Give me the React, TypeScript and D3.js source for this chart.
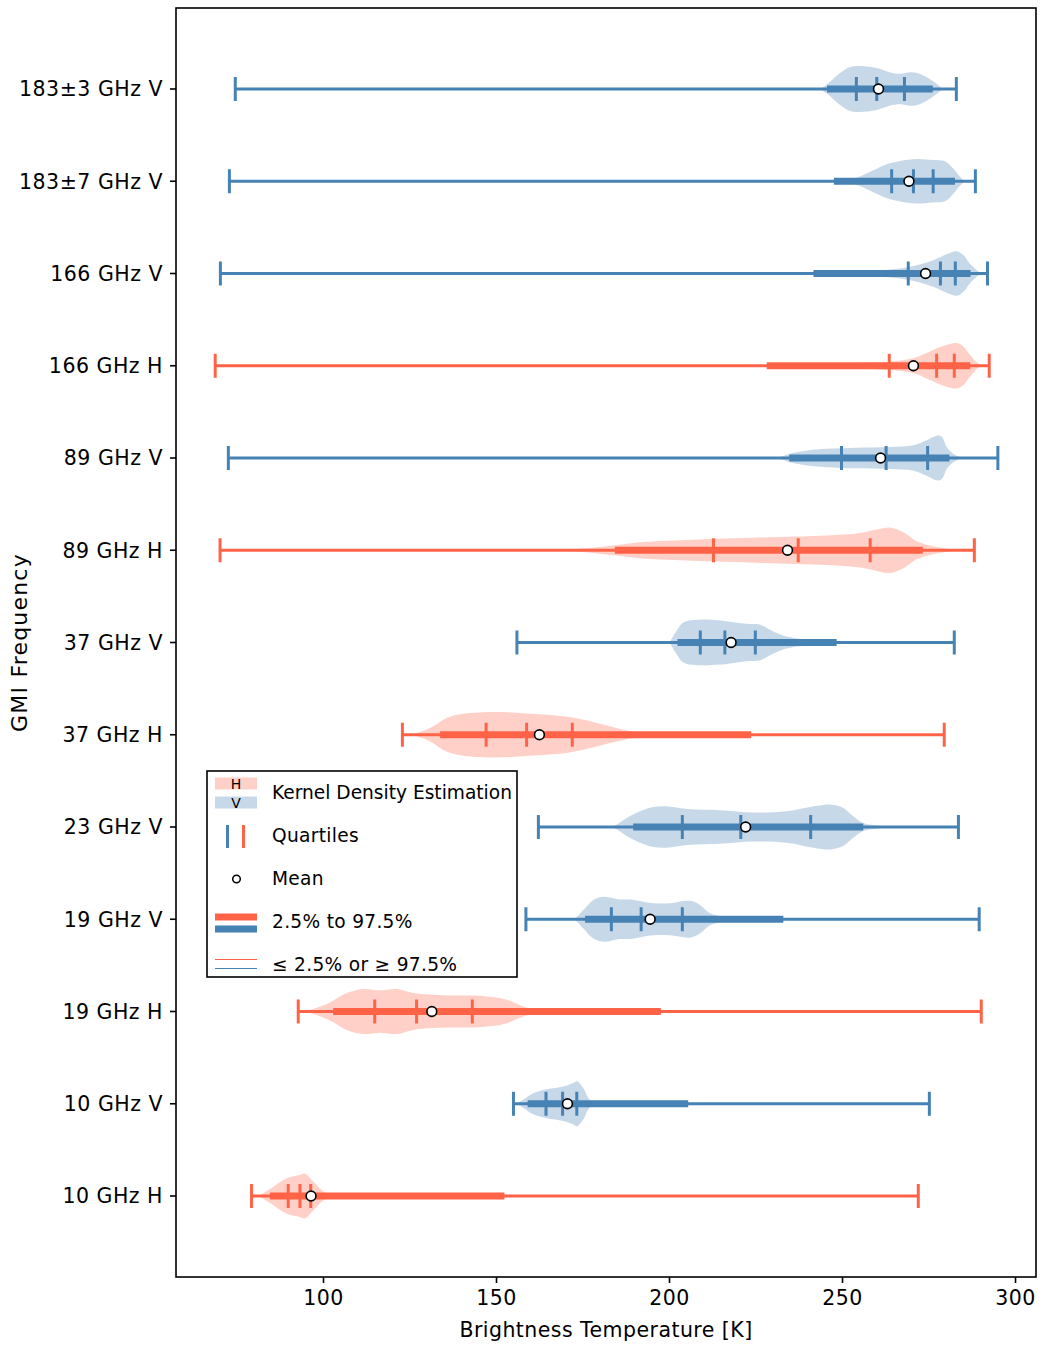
import React from 'react';
import * as d3 from 'd3';

const categories = ['183±3 GHz V', '183±7 GHz V', '166 GHz V', '166 GHz H', '89 GHz V', '89 GHz H', '37 GHz V', '37 GHz H', '23 GHz V', '19 GHz V', '19 GHz H', '10 GHz V', '10 GHz H'];
const polarization = ['V', 'V', 'V', 'H', 'V', 'H', 'V', 'H', 'V', 'V', 'H', 'V', 'H'];
const whiskerMin = [74.5, 72.8, 70.2, 68.7, 72.5, 70.1, 155.9, 122.8, 162.1, 158.5, 92.7, 154.9, 79.2];
const whiskerMax = [282.9, 288.4, 291.9, 292.4, 294.9, 288.1, 282.3, 279.4, 283.5, 289.5, 290.1, 275.1, 271.9];
const p025 = [245.5, 247.5, 241.6, 228.1, 234.6, 184.2, 202.3, 133.7, 189.5, 175.6, 102.8, 159.0, 84.5];
const p975 = [276.1, 282.5, 287.0, 286.9, 280.9, 273.2, 248.3, 223.6, 256.0, 232.9, 197.5, 205.4, 152.3];
const q1 = [254.0, 264.2, 269.0, 263.5, 249.7, 212.7, 208.9, 147.0, 203.7, 183.2, 114.8, 164.3, 89.8];
const median = [259.9, 270.5, 278.3, 277.2, 262.6, 237.2, 216.0, 158.7, 220.6, 191.8, 126.9, 169.1, 93.2];
const q3 = [267.9, 276.2, 282.6, 282.3, 274.6, 258.0, 224.8, 171.9, 240.8, 203.7, 143.0, 173.2, 96.3];
const means = [260.4, 269.2, 274.0, 270.5, 261.0, 234.1, 217.8, 162.4, 222.0, 194.4, 131.3, 170.5, 96.4];

// KDE outlines: [temperature K, relative half-width]
const kde183p3V: [number, number][] = [[243.5, 0], [245.4, 0.19], [249.3, 0.7], [252.2, 0.96], [255.1, 1.0], [259.9, 0.91], [263.8, 0.72], [266.7, 0.66], [269.6, 0.73], [271.8, 0.68], [275.3, 0.42], [278.2, 0.1], [279.0, 0]];
const kde183p7V: [number, number][] = [[250.2, 0], [254.6, 0.19], [258.9, 0.48], [262.8, 0.74], [266.6, 0.88], [271.4, 0.97], [276.2, 0.92], [279.6, 0.87], [282.0, 0.55], [284.0, 0.19], [285.4, 0]];
const kde166V: [number, number][] = [[240.0, 0], [247.3, 0.04], [257.0, 0.1], [266.6, 0.22], [271.4, 0.36], [276.2, 0.58], [280.1, 0.84], [283.0, 0.97], [284.9, 0.8], [286.8, 0.43], [288.8, 0.14], [290.2, 0]];
const kde166H: [number, number][] = [[236.0, 0], [245.0, 0.06], [257.0, 0.14], [263.7, 0.19], [270.5, 0.33], [274.3, 0.55], [278.2, 0.81], [283.0, 0.99], [284.9, 0.84], [286.8, 0.48], [288.8, 0.14], [290.2, 0]];
const kde89V: [number, number][] = [[229.5, 0], [231.9, 0.04], [234.8, 0.19], [239.7, 0.33], [245.4, 0.4], [254.1, 0.45], [263.7, 0.48], [270.5, 0.55], [274.3, 0.77], [277.2, 0.97], [278.7, 0.92], [280.1, 0.48], [282.0, 0.19], [284.0, 0.04], [285.5, 0]];
const kde89H: [number, number][] = [[168.4, 0], [174.1, 0.06], [184.2, 0.22], [192.4, 0.36], [206.9, 0.46], [226.2, 0.55], [245.4, 0.64], [255.1, 0.75], [260.8, 0.93], [263.7, 0.99], [267.6, 0.78], [271.4, 0.39], [276.2, 0.17], [282.0, 0.03], [285.0, 0]];
const kde37V: [number, number][] = [[199.6, 0], [200.1, 0.04], [201.6, 0.4], [204.0, 0.87], [208.8, 0.99], [214.6, 0.96], [222.3, 0.81], [226.2, 0.77], [230.0, 0.48], [233.9, 0.26], [239.7, 0.12], [245.4, 0.04], [250.0, 0]];
const kde37H: [number, number][] = [[125.0, 0], [126.9, 0.07], [130.8, 0.29], [135.6, 0.73], [140.4, 0.91], [150.1, 0.99], [159.7, 0.91], [169.3, 0.8], [174.1, 0.68], [179.0, 0.51], [183.8, 0.33], [189.5, 0.14], [198.2, 0.05], [206.0, 0]];
const kde23V: [number, number][] = [[182.8, 0], [184.7, 0.1], [187.6, 0.39], [191.5, 0.68], [195.3, 0.87], [199.2, 0.9], [205.0, 0.78], [214.6, 0.73], [224.2, 0.63], [233.9, 0.68], [241.6, 0.9], [246.4, 0.98], [250.2, 0.83], [253.1, 0.47], [256.0, 0.17], [260.8, 0.05], [265.0, 0]];
const kde19V: [number, number][] = [[171.2, 0], [172.7, 0.04], [175.1, 0.4], [178.0, 0.84], [180.9, 0.98], [185.7, 0.86], [188.6, 0.86], [195.3, 0.7], [200.1, 0.7], [205.9, 0.8], [208.8, 0.62], [211.7, 0.26], [215.5, 0.12], [222.3, 0.04], [226.0, 0]];
const kde19H: [number, number][] = [[93.2, 0], [96.1, 0.07], [101.9, 0.39], [106.7, 0.8], [111.5, 0.98], [116.3, 0.92], [121.2, 0.98], [126.0, 0.8], [135.6, 0.7], [145.2, 0.68], [153.0, 0.51], [157.7, 0.22], [162.6, 0.07], [167.0, 0]];
const kde10V: [number, number][] = [[154.8, 0], [156.0, 0.03], [157.7, 0.17], [160.6, 0.46], [164.5, 0.63], [169.3, 0.75], [172.2, 0.9], [173.2, 0.98], [175.1, 0.68], [176.5, 0.25], [178.0, 0.06], [179.3, 0]];
const kde10H: [number, number][] = [[81.1, 0], [82.6, 0.12], [85.5, 0.4], [89.4, 0.77], [93.2, 0.91], [94.7, 0.97], [97.1, 0.62], [100.0, 0.19], [101.9, 0.04], [103.3, 0]];
const kdeShapes = [kde183p3V, kde183p7V, kde166V, kde166H, kde89V, kde89H, kde37V, kde37H, kde23V, kde19V, kde19H, kde10V, kde10H];

const xTicks = [100, 150, 200, 250, 300];
const xLabel = 'Brightness Temperature [K]';
const yLabel = 'GMI Frequency';
const legendLabels = ['Kernel Density Estimation', 'Quartiles', 'Mean', '2.5% to 97.5%', '≤ 2.5% or ≥ 97.5%'];

const W = 1044;
const H = 1345;
const M = { left: 176, right: 1036, top: 8, bottom: 1277 };
const COL = { V: '#4682b4', H: '#ff6347' };
const FONT = "'DejaVu Sans', Verdana, sans-serif";

export default function App() {
  const x = d3.scaleLinear().domain([57.37, 305.92]).range([M.left, M.right]);
  const y = d3.scaleLinear().domain([-0.878, 12.878]).range([M.top, M.bottom]);
  const halfMax = 23;

  return (
    <svg width={W} height={H} style={{ position: 'absolute', left: 0, top: 0, background: '#fff' }} fontFamily={FONT}>
      <rect x={0} y={0} width={W} height={H} fill="#fff" />
      {categories.map((cat, i) => {
        const cy = y(i);
        const c = COL[polarization[i] as 'V' | 'H'];
        const area = d3
          .area<[number, number]>()
          .x((d) => x(d[0]))
          .y0((d) => cy - d[1] * halfMax)
          .y1((d) => cy + d[1] * halfMax)
          .curve(d3.curveCatmullRom.alpha(0.5));
        const capH = 12;
        return (
          <g key={cat}>
            <path d={area(kdeShapes[i]) || ''} fill={c} fillOpacity={0.3} stroke="none" />
            <line x1={x(whiskerMin[i])} x2={x(whiskerMax[i])} y1={cy} y2={cy} stroke={c} strokeWidth={3} />
            <line x1={x(p025[i])} x2={x(p975[i])} y1={cy} y2={cy} stroke={c} strokeWidth={7} />
            {[whiskerMin[i], whiskerMax[i]].map((v, k) => (
              <line key={'c' + k} x1={x(v)} x2={x(v)} y1={cy - capH} y2={cy + capH} stroke={c} strokeWidth={3} />
            ))}
            {[q1[i], median[i], q3[i]].map((v, k) => (
              <line key={'q' + k} x1={x(v)} x2={x(v)} y1={cy - capH} y2={cy + capH} stroke={c} strokeWidth={3} />
            ))}
            <circle cx={x(means[i])} cy={cy} r={4.9} fill="#fff" stroke="#000" strokeWidth={1.6} />
          </g>
        );
      })}

      {/* frame */}
      <rect x={M.left} y={M.top} width={M.right - M.left} height={M.bottom - M.top} fill="none" stroke="#000" strokeWidth={1.6} />

      {/* y ticks */}
      {categories.map((cat, i) => (
        <g key={'yt' + i}>
          <line x1={M.left - 6} x2={M.left} y1={y(i)} y2={y(i)} stroke="#000" strokeWidth={1.6} />
          <text x={M.left - 13} y={y(i)} dy="0.36em" textAnchor="end" fontSize={20.5} letterSpacing={0.5} fill="#000">{cat}</text>
        </g>
      ))}
      {/* x ticks */}
      {xTicks.map((t) => (
        <g key={'xt' + t}>
          <line x1={x(t)} x2={x(t)} y1={M.bottom} y2={M.bottom + 6} stroke="#000" strokeWidth={1.6} />
          <text x={x(t)} y={1305} textAnchor="middle" fontSize={20.5} letterSpacing={0.4} fill="#000">{t}</text>
        </g>
      ))}
      <text x={(M.left + M.right) / 2} y={1337} textAnchor="middle" fontSize={20.5} letterSpacing={0.45} fill="#000">{xLabel}</text>
      <text transform={`translate(27, ${(M.top + M.bottom) / 2}) rotate(-90)`} textAnchor="middle" fontSize={22} letterSpacing={1.2} fill="#000">{yLabel}</text>

      {/* legend */}
      <g>
        <rect x={207} y={771} width={310} height={206} fill="#fff" stroke="#000" strokeWidth={1.6} />
        <rect x={215} y={777.5} width={42} height={12} fill={COL.H} fillOpacity={0.3} />
        <rect x={215} y={796.5} width={42} height={12} fill={COL.V} fillOpacity={0.3} />
        <text x={236} y={789} textAnchor="middle" fontSize={14} fill="#000">H</text>
        <text x={236} y={808} textAnchor="middle" fontSize={14} fill="#000">V</text>
        <line x1={227.5} x2={227.5} y1={825} y2={848} stroke={COL.V} strokeWidth={3} />
        <line x1={243.5} x2={243.5} y1={825} y2={848} stroke={COL.H} strokeWidth={3} />
        <circle cx={236.5} cy={879} r={3.8} fill="#fff" stroke="#000" strokeWidth={1.5} />
        <line x1={215} x2={257} y1={917} y2={917} stroke={COL.H} strokeWidth={7} />
        <line x1={215} x2={257} y1={929} y2={929} stroke={COL.V} strokeWidth={7} />
        <line x1={215} x2={257} y1={959.5} y2={959.5} stroke={COL.H} strokeWidth={1} />
        <line x1={215} x2={257} y1={968.5} y2={968.5} stroke={COL.V} strokeWidth={1} />
        {legendLabels.map((lab, k) => (
          <text key={lab} x={272} y={[792, 835, 878, 921, 964][k]} dy="0.36em" fontSize={18.6} letterSpacing={k === 0 ? 0 : 0.3} fill="#000">{lab}</text>
        ))}
      </g>
    </svg>
  );
}
